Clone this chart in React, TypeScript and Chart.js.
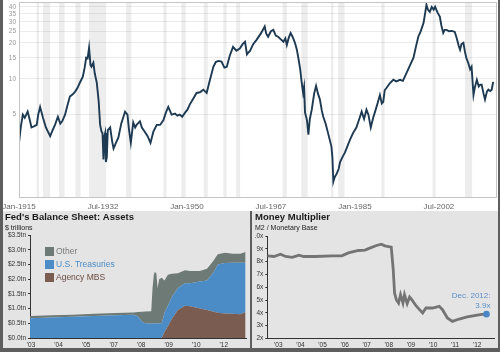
import React, { useEffect, useRef } from 'react';
import { Chart, registerables } from 'chart.js';

Chart.register(...registerables);

const FONT = '"Liberation Sans", Arial, Helvetica, sans-serif';

// ---------- Top chart: long-run ratio (log scale) ----------
const DG_YEARS = [
  1915.0, 1915.4, 1915.8, 1916.2, 1916.8, 1917.2, 1917.6, 1918.2, 1918.7, 1919.0,
  1919.4, 1920.0, 1920.6, 1921.5, 1922.0, 1922.5, 1923.1, 1923.6, 1924.0, 1924.6,
  1925.1, 1925.6, 1926.2, 1926.7, 1927.2, 1927.7, 1928.3, 1928.7, 1929.0, 1929.3,
  1929.6, 1929.9, 1930.1, 1930.5, 1930.8, 1931.2, 1931.6, 1931.9, 1932.2, 1932.4,
  1932.6, 1932.8, 1932.95, 1933.1, 1933.3, 1933.5, 1934.0, 1934.4, 1934.7, 1935.2,
  1935.7, 1936.3, 1937.1, 1937.6, 1937.9, 1938.3, 1938.8, 1939.2, 1939.5, 1940.2,
  1940.6, 1941.2, 1941.8, 1942.4, 1943.0, 1943.7, 1944.4, 1945.1, 1945.6, 1946.1,
  1946.8, 1947.5, 1948.0, 1948.5, 1949.0, 1949.6, 1950.1, 1950.6, 1951.3, 1952.0,
  1952.7, 1953.4, 1954.1, 1954.7, 1955.5, 1956.0, 1956.5, 1957.2, 1957.8, 1958.3,
  1958.9, 1959.6, 1960.3, 1961.0, 1961.6, 1962.1, 1962.5, 1962.8, 1963.1, 1963.8,
  1964.5, 1965.4, 1966.2, 1966.5, 1966.9, 1967.5, 1968.0, 1968.5, 1969.0, 1969.5,
  1970.1, 1970.5, 1970.8, 1971.2, 1971.6, 1972.0, 1972.5, 1972.9, 1973.2, 1973.6,
  1973.9, 1974.2, 1974.4, 1974.6, 1975.0, 1975.3, 1975.6, 1976.0, 1976.5, 1976.9,
  1977.3, 1977.7, 1978.1, 1978.4, 1978.9, 1979.4, 1980.1, 1980.3, 1980.5, 1980.8,
  1981.2, 1981.6, 1981.9, 1982.4, 1982.9, 1983.4, 1984.0, 1984.6, 1985.3, 1985.9,
  1986.4, 1986.9, 1987.4, 1987.8, 1988.3, 1988.8, 1989.2, 1989.7, 1990.2, 1990.6,
  1990.9, 1991.2, 1991.6, 1992.3, 1993.0, 1993.6, 1994.4, 1995.0, 1995.4, 1996.3,
  1997.2, 1997.7, 1998.2, 1998.7, 1999.3, 1999.6, 1999.9, 2000.2, 2000.6, 2001.0,
  2001.4, 2001.7, 2002.2, 2002.7, 2003.0, 2003.4, 2003.7, 2004.1, 2004.6, 2005.2,
  2005.8, 2006.2, 2006.6, 2006.9, 2007.2, 2007.6, 2007.9, 2008.2, 2008.6, 2009.0,
  2009.3, 2009.7, 2010.0, 2010.4, 2010.8, 2011.1, 2011.4, 2011.8, 2012.1, 2012.5,
  2012.8, 2013.2, 2013.5, 2013.8,
];
const DG_VALUES = [
  2.9, 4.0, 5.0, 4.7, 5.3, 4.6, 3.9, 4.0, 4.1, 5.0,
  5.8, 4.7, 3.9, 3.3, 3.7, 4.1, 4.8, 4.2, 4.4, 5.0,
  6.0, 7.1, 7.4, 7.8, 8.4, 9.3, 10.4, 12.5, 15.0, 14.8,
  18.2, 13.0, 12.6, 13.6, 11.0, 9.3, 6.5, 4.1, 3.6, 3.5,
  2.1, 3.3, 3.5, 2.0, 2.2, 3.7, 3.9, 3.0, 2.6, 2.9,
  3.2, 4.2, 5.3, 5.0, 3.8, 2.9, 4.3, 3.9, 4.1, 4.4,
  3.9, 3.6, 3.3, 2.9, 3.6, 4.1, 4.1, 4.5, 5.2, 5.8,
  5.0, 5.1, 4.9, 5.0, 4.8, 5.2, 5.5, 6.1, 6.8, 7.6,
  7.7, 8.1, 7.6, 9.5, 12.6, 13.8, 14.1, 13.9, 12.4, 12.6,
  15.5, 18.5, 17.2, 17.9, 19.5, 20.4, 16.0, 16.6, 17.0, 19.5,
  21.2, 24.0, 27.4, 24.0, 22.5, 25.0, 25.7, 23.0, 22.5, 21.5,
  20.4, 21.8, 19.2, 22.0, 24.2, 22.5, 20.0, 17.5, 15.0, 12.0,
  9.3, 7.6, 8.5, 5.2, 4.5, 3.4, 4.6, 5.5, 7.5, 8.7,
  7.5, 6.7, 5.4, 4.8, 4.2, 3.5, 2.7, 2.2, 1.37, 1.5,
  1.6, 1.75, 2.0, 2.2, 2.4, 2.7, 3.1, 3.5, 3.9, 4.6,
  5.3, 4.6, 5.5, 5.0, 3.9, 4.7, 5.3, 6.2, 7.3, 6.2,
  6.4, 8.0, 8.4, 9.2, 9.8, 9.5, 9.8, 9.6, 10.4, 12.5,
  15.0, 18.5, 22.5, 25.0, 29.4, 35.0, 41.6, 38.0, 36.4, 40.0,
  38.0, 40.1, 36.0, 33.1, 28.0, 24.2, 25.7, 25.7, 25.0, 25.2,
  24.7, 22.0, 19.0, 17.5, 19.5, 20.0, 17.0, 15.0, 13.6, 12.0,
  12.6, 7.3, 8.5, 9.8, 8.6, 8.9, 8.9, 7.5, 6.7, 7.8,
  8.1, 7.9, 8.1, 9.4,
];
const RECESSION_START = [1918.67, 1920.0, 1923.33, 1926.75, 1929.58, 1937.33, 1945.08, 1948.83, 1953.5, 1957.58, 1960.25, 1969.92, 1973.83, 1980.0, 1981.5, 1990.5, 2001.17, 2007.92];
const RECESSION_END = [1919.17, 1921.5, 1924.5, 1927.83, 1933.17, 1938.42, 1945.75, 1949.75, 1954.33, 1958.25, 1961.08, 1970.83, 1975.17, 1980.5, 1982.83, 1991.17, 2001.83, 2009.42];
const TOP_X_TICKS = [1915, 1932.5, 1950, 1967.5, 1985, 2002.5];
const TOP_X_LABELS = ['Jan-1915', 'Jul-1932', 'Jan-1950', 'Jul-1967', 'Jan-1985', 'Jul-2002'];
const TOP_Y_TICKS = [5, 10, 15, 20, 25, 30, 35, 40];

// ---------- Bottom left: Fed's balance sheet ----------
const FED_DATES = [
  2003.0, 2004.0, 2005.0, 2006.0, 2007.0, 2007.85, 2008.05, 2008.25, 2008.4, 2008.68,
  2008.74, 2008.8, 2008.85, 2008.92, 2008.98, 2009.05, 2009.17, 2009.3, 2009.46, 2009.65,
  2009.93, 2010.26, 2010.5, 2010.96, 2011.29, 2011.57, 2011.8, 2012.13, 2012.5, 2012.85, 2013.1,
];
const FED_MBS = [
  0, 0, 0, 0, 0, 0, 0, 0, 0, 0,
  0, 0, 0, 0, 0, 0, 0, 0.2, 0.4, 0.65,
  0.95, 1.1, 1.08, 1.0, 0.95, 0.9, 0.86, 0.83, 0.82, 0.81, 0.88,
];
const FED_TREASURIES = [
  0.67, 0.70, 0.72, 0.75, 0.77, 0.79, 0.74, 0.55, 0.50, 0.49,
  0.49, 0.49, 0.49, 0.49, 0.49, 0.50, 0.50, 0.65, 0.70, 0.75,
  0.75, 0.76, 0.78, 0.92, 1.0, 1.3, 1.64, 1.72, 1.74, 1.75, 1.68,
];
const FED_OTHER = [
  0.08, 0.07, 0.07, 0.07, 0.08, 0.08, 0.14, 0.34, 0.40, 0.42,
  1.2, 1.65, 1.76, 1.7, 1.2, 1.5, 1.55, 1.1, 1.05, 0.78,
  0.5, 0.44, 0.42, 0.36, 0.4, 0.4, 0.35, 0.35, 0.3, 0.3, 0.36,
];
const FED_X_LABELS = ["'03", "'04", "'05", "'07", "'08", "'09", "'10", "'12"];
const FED_X_TICK_START = 2003.05;
const FED_X_TICK_STEP = 1.29;

// ---------- Bottom right: money multiplier ----------
const MM_DATES = [
  2003.0, 2003.3, 2003.6, 2003.83, 2004.13, 2004.43, 2004.65, 2005.18, 2005.92, 2006.37,
  2006.67, 2007.12, 2007.42, 2007.64, 2007.94, 2008.16, 2008.32, 2008.61, 2008.7, 2008.76,
  2008.84, 2008.94, 2009.03, 2009.14, 2009.21, 2009.33, 2009.44, 2009.54, 2009.73, 2009.89,
  2010.03, 2010.18, 2010.48, 2010.78, 2010.93, 2011.15, 2011.38, 2011.68, 2012.05, 2012.5,
  2012.72, 2012.92,
];
const MM_VALUES = [
  8.45, 8.4, 8.58, 8.4, 8.33, 8.5, 8.4, 8.4, 8.45, 8.45,
  8.68, 8.87, 8.9, 9.05, 9.26, 9.36, 9.23, 9.13, 7.36, 5.55,
  5.03, 4.77, 5.42, 4.77, 5.42, 4.72, 5.24, 5.03, 4.56, 4.25,
  3.99, 4.38, 4.38, 4.51, 4.25, 3.6, 3.34, 3.52, 3.68, 3.83,
  3.88, 3.9,
];
const MM_TICK_YEARS = [2003, 2004, 2005, 2006, 2007, 2008, 2009, 2010, 2011, 2012];
const MM_TICK_LABELS = ["'03", "'04", "'05", "'06", "'07", "'08", "'09", "'10", "'11", "'12"];
const MM_NOTE = ['Dec. 2012:', '3.9x'];

const toPoints = (xs: number[], ys: number[]) => xs.map((x, i) => ({ x, y: ys[i] }));

const noAutoPad = (s: any) => {
  s.paddingLeft = 0;
  s.paddingRight = 0;
  s.paddingTop = 0;
  s.paddingBottom = 0;
};

function useChart(make: (c: HTMLCanvasElement) => Chart) {
  const ref = useRef<HTMLCanvasElement>(null);
  useEffect(() => {
    const chart = make(ref.current as HTMLCanvasElement);
    return () => chart.destroy();
  }, []);
  return ref;
}

function TopChart() {
  const ref = useChart((canvas) => {
    const bands = {
      id: 'bands',
      beforeDatasetsDraw(chart: any) {
        const { ctx, chartArea, scales } = chart;
        ctx.save();
        ctx.fillStyle = 'rgba(0,0,0,0.07)';
        RECESSION_START.forEach((s, i) => {
          const x1 = scales.x.getPixelForValue(s);
          const x2 = scales.x.getPixelForValue(RECESSION_END[i]);
          ctx.fillRect(x1, chartArea.top, Math.max(1.5, x2 - x1), chartArea.bottom - chartArea.top);
        });
        ctx.restore();
      },
    };
    const frame = {
      id: 'frame',
      afterDraw(chart: any) {
        const { ctx, chartArea } = chart;
        ctx.save();
        ctx.strokeStyle = '#c4c4c4';
        ctx.lineWidth = 1;
        ctx.strokeRect(chartArea.left + 0.5, chartArea.top + 0.5, chartArea.right - chartArea.left - 1, chartArea.bottom - chartArea.top - 1);
        ctx.restore();
      },
    };
    return new Chart(canvas, {
      type: 'line',
      data: {
        datasets: [{
          data: toPoints(DG_YEARS, DG_VALUES),
          borderColor: '#1d3a52',
          borderWidth: 1.9,
          pointRadius: 0,
          tension: 0,
        }],
      },
      options: {
        responsive: false,
        animation: false,
        layout: { padding: { top: 2, right: 1, left: 0, bottom: 0 } },
        plugins: { legend: { display: false }, tooltip: { enabled: false } },
        scales: {
          x: {
            type: 'linear',
            min: 1915,
            max: 2014.6,
            afterBuildTicks: (s: any) => { s.ticks = TOP_X_TICKS.map((v) => ({ value: v })); },
            afterFit: (s: any) => { s.height = 13; noAutoPad(s); },
            ticks: {
              autoSkip: false,
              maxRotation: 0,
              padding: 3.5,
              color: '#666',
              font: { size: 8, family: FONT },
              callback: (_v: any, i: number) => TOP_X_LABELS[i],
            },
            grid: { display: false, drawTicks: false, tickLength: 0 },
            border: { display: false },
          },
          y: {
            type: 'logarithmic',
            min: 1,
            max: 44,
            afterBuildTicks: (s: any) => { s.ticks = TOP_Y_TICKS.map((v) => ({ value: v })); },
            afterFit: (s: any) => { s.width = 16; noAutoPad(s); },
            ticks: {
              padding: 3,
              color: '#999',
              font: { size: 6.5, family: FONT },
              callback: (v: any) => String(v),
            },
            grid: { color: '#ececec', drawTicks: false, tickLength: 0 },
            border: { display: false },
          },
        },
      },
      plugins: [bands, frame],
    } as any);
  });
  return <canvas ref={ref} width={495} height={211} style={{ display: 'block' }} />;
}

function FedChart() {
  const ref = useChart((canvas) => {
    const legend = {
      id: 'insideLegend',
      afterDatasetsDraw(chart: any) {
        const { ctx, chartArea } = chart;
        const items = [...chart.data.datasets].reverse();
        ctx.save();
        ctx.font = `8.5px ${FONT}`;
        ctx.textBaseline = 'middle';
        items.forEach((d: any, i: number) => {
          const bx = chartArea.left + 15;
          const by = chartArea.top + 12 + i * 13;
          ctx.fillStyle = d.backgroundColor;
          ctx.fillRect(bx, by, 9, 9);
          ctx.fillStyle = d.legendText;
          ctx.fillText(d.label, bx + 11, by + 5);
        });
        ctx.restore();
      },
    };
    return new Chart(canvas, {
      type: 'line',
      data: {
        datasets: [
          { label: 'Agency MBS', data: toPoints(FED_DATES, FED_MBS), backgroundColor: '#7a5c50', legendText: '#6a4c42', borderColor: 'rgba(0,0,0,0)', borderWidth: 0, pointRadius: 0, fill: 'origin', tension: 0 },
          { label: 'U.S. Treasuries', data: toPoints(FED_DATES, FED_TREASURIES), backgroundColor: '#4b8cc6', legendText: '#4b8cc6', borderColor: 'rgba(0,0,0,0)', borderWidth: 0, pointRadius: 0, fill: '-1', tension: 0 },
          { label: 'Other', data: toPoints(FED_DATES, FED_OTHER), backgroundColor: '#6e7a75', legendText: '#777b79', borderColor: 'rgba(0,0,0,0)', borderWidth: 0, pointRadius: 0, fill: '-1', tension: 0 },
        ],
      },
      options: {
        responsive: false,
        animation: false,
        layout: { padding: { top: 0, right: 4, left: 2, bottom: 0 } },
        plugins: {
          legend: { display: false },
          tooltip: { enabled: false },
          title: {
            display: true,
            text: "Fed's Balance Sheet: Assets",
            align: 'start',
            color: '#1a1a1a',
            font: { size: 9.5, weight: 'bold', family: FONT, lineHeight: 1.2 },
            padding: { top: 1, bottom: 0 },
          },
          subtitle: {
            display: true,
            text: '$ trillions',
            align: 'start',
            color: '#222',
            font: { size: 7, family: FONT, lineHeight: 1.2 },
            padding: { top: 0, bottom: 3.2 },
          },
        },
        scales: {
          x: {
            type: 'linear',
            min: 2003,
            max: 2013.12,
            afterBuildTicks: (s: any) => { s.ticks = FED_X_LABELS.map((_l, i) => ({ value: FED_X_TICK_START + i * FED_X_TICK_STEP })); },
            afterFit: (s: any) => { s.height = 10; noAutoPad(s); },
            ticks: {
              autoSkip: false,
              maxRotation: 0,
              padding: 3.5,
              color: '#333',
              font: { size: 6.5, family: FONT },
              callback: (_v: any, i: number) => FED_X_LABELS[i],
            },
            grid: { display: false, drawTicks: false, tickLength: 0 },
            border: { display: true, color: '#333', width: 1 },
          },
          y: {
            stacked: true,
            min: 0,
            max: 3.5,
            afterFit: (s: any) => { s.width = 25; noAutoPad(s); },
            ticks: {
              stepSize: 0.5,
              padding: 2,
              color: '#333',
              font: { size: 6.5, family: FONT },
              callback: (v: any) => '$' + Number(v).toFixed(1) + 'tn',
            },
            grid: { display: true, drawOnChartArea: false, drawTicks: true, tickLength: 2, color: '#333' },
            border: { display: true, color: '#333', width: 1 },
          },
        },
      },
      plugins: [legend],
    } as any);
  });
  return <canvas ref={ref} width={247} height={137} style={{ display: 'block' }} />;
}

function MultiplierChart() {
  const ref = useChart((canvas) => {
    const note = {
      id: 'note',
      afterDatasetsDraw(chart: any) {
        const { ctx } = chart;
        const pts = chart.getDatasetMeta(0).data;
        const last = pts[pts.length - 1];
        ctx.save();
        ctx.font = `8px ${FONT}`;
        ctx.fillStyle = '#5a8fc9';
        ctx.textAlign = 'right';
        ctx.textBaseline = 'middle';
        ctx.fillText(MM_NOTE[0], last.x + 4, last.y - 18);
        ctx.fillText(MM_NOTE[1], last.x + 4, last.y - 8);
        ctx.restore();
      },
    };
    const lastIdx = MM_VALUES.length - 1;
    return new Chart(canvas, {
      type: 'line',
      data: {
        datasets: [{
          data: toPoints(MM_DATES, MM_VALUES),
          borderColor: '#747474',
          borderWidth: 2.8,
          tension: 0,
          pointRadius: (c: any) => (c.dataIndex === lastIdx ? 3.3 : 0),
          pointBackgroundColor: '#4a86c5',
          pointBorderColor: '#4a86c5',
          pointBorderWidth: 0,
        }],
      },
      options: {
        responsive: false,
        animation: false,
        layout: { padding: { top: 0, right: 1, left: 3, bottom: 0 } },
        plugins: {
          legend: { display: false },
          tooltip: { enabled: false },
          title: {
            display: true,
            text: 'Money Multiplier',
            align: 'start',
            color: '#1a1a1a',
            font: { size: 9.5, weight: 'bold', family: FONT, lineHeight: 1.2 },
            padding: { top: 1, bottom: 0 },
          },
          subtitle: {
            display: true,
            text: 'M2 / Monetary Base',
            align: 'start',
            color: '#222',
            font: { size: 7, family: FONT, lineHeight: 1.2 },
            padding: { top: 0, bottom: 4.2 },
          },
        },
        scales: {
          x: {
            type: 'linear',
            min: 2003.0,
            max: 2013.26,
            afterBuildTicks: (s: any) => { s.ticks = MM_TICK_YEARS.map((y) => ({ value: y + 0.5 })); },
            afterFit: (s: any) => { s.height = 9.5; noAutoPad(s); },
            ticks: {
              autoSkip: false,
              maxRotation: 0,
              padding: 3,
              color: '#333',
              font: { size: 6.5, family: FONT },
              callback: (_v: any, i: number) => MM_TICK_LABELS[i],
            },
            grid: { display: false, drawTicks: false, tickLength: 0 },
            border: { display: true, color: '#333', width: 1 },
          },
          y: {
            min: 2,
            max: 10,
            afterFit: (s: any) => { s.width = 12.3; noAutoPad(s); },
            ticks: {
              stepSize: 1,
              padding: 2,
              color: '#333',
              font: { size: 6.5, family: FONT },
              callback: (v: any) => v + 'x',
            },
            grid: { display: true, drawOnChartArea: false, drawTicks: true, tickLength: 2, color: '#333' },
            border: { display: true, color: '#333', width: 1 },
          },
        },
      },
      plugins: [note],
    } as any);
  });
  return <canvas ref={ref} width={246} height={137} style={{ display: 'block' }} />;
}

export default function App() {
  return (
    <div style={{ position: 'fixed', left: 0, top: 0, width: 500, height: 352, background: '#5e5e5e', overflow: 'hidden', fontFamily: FONT }}>
      <div style={{ position: 'absolute', left: 3, top: 0, width: 495, height: 211, background: '#ffffff' }}>
        <TopChart />
      </div>
      <div style={{ position: 'absolute', left: 3, top: 211, width: 247, height: 137, background: '#e4e4e4' }}>
        <FedChart />
      </div>
      <div style={{ position: 'absolute', left: 252, top: 211, width: 246, height: 137, background: '#e4e4e4' }}>
        <MultiplierChart />
      </div>
    </div>
  );
}
